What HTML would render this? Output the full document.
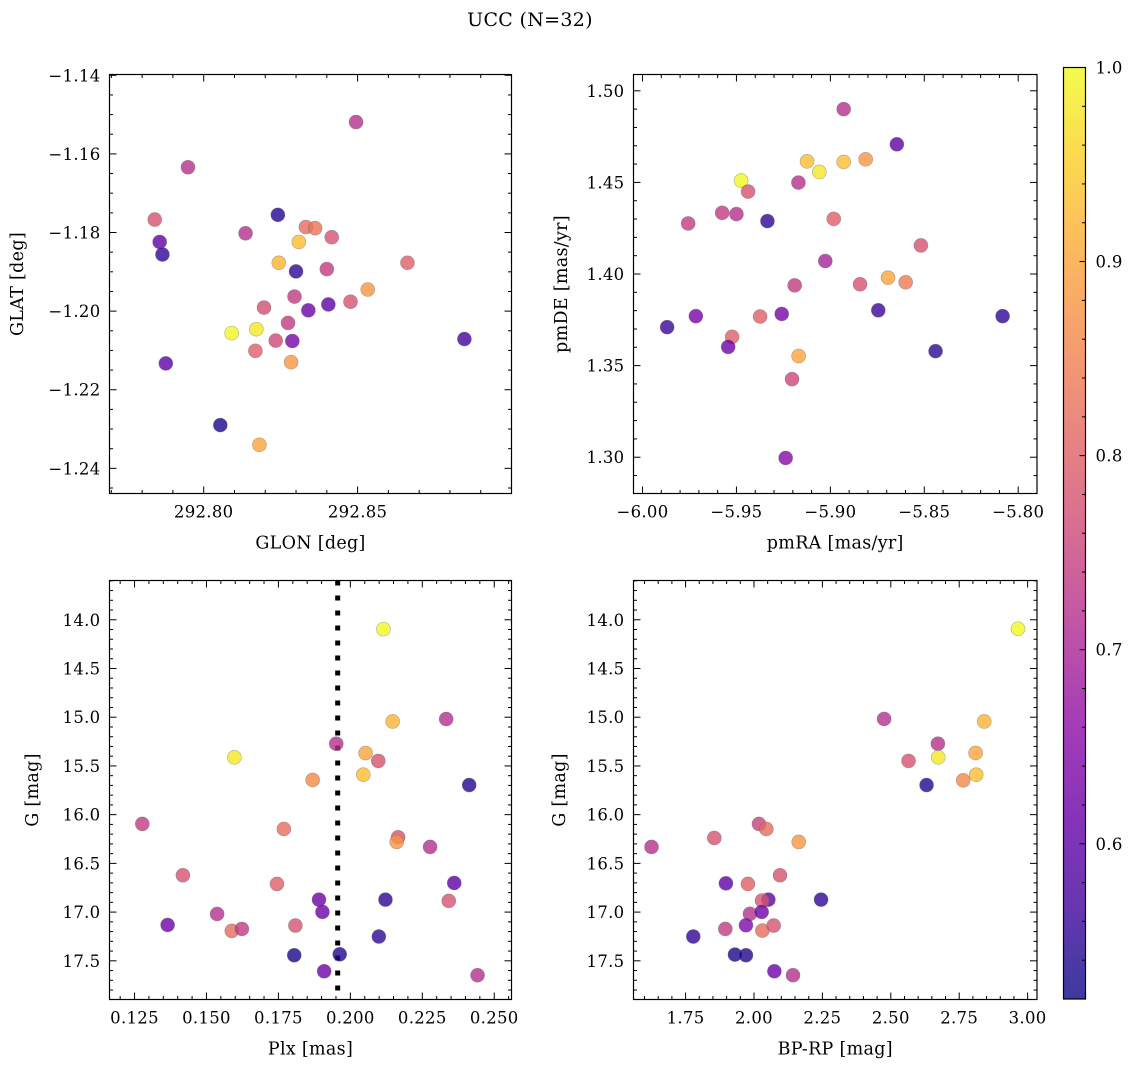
<!DOCTYPE html>
<html><head><meta charset="utf-8">
<style>
html,body{margin:0;padding:0;background:#fff;}
svg{display:block;font-family:"DejaVu Serif","Liberation Serif",serif;}
</style></head>
<body>
<svg id="fig" width="1136" height="1067" viewBox="0 0 1136 1067" xmlns="http://www.w3.org/2000/svg">
<text x="530" y="26" font-size="19" letter-spacing="0.3" text-anchor="middle">UCC (N=32)</text>
<g id="layer"></g>
</svg>
<script>
// ---- data: panel 1 (GLON/GLAT)
const glon=[292.8495,292.7949,292.7841,292.7857,292.7866,292.8241,292.8136,292.8332,292.8362,292.8416,292.8309,292.8244,292.8662,292.8300,292.8400,292.8533,292.8295,292.8196,292.8340,292.8405,292.8477,292.8274,292.8091,292.8171,292.8234,292.8288,292.8168,292.8847,292.7877,292.8284,292.8054,292.8181];
const glat=[-1.1519,-1.1634,-1.1767,-1.1824,-1.1856,-1.1755,-1.1802,-1.1786,-1.1789,-1.1812,-1.1824,-1.1877,-1.1877,-1.1899,-1.1893,-1.1945,-1.1963,-1.1991,-1.1998,-1.1983,-1.1976,-1.2030,-1.2056,-1.2046,-1.2075,-1.2076,-1.2101,-1.2071,-1.2133,-1.2130,-1.2290,-1.2340];
const prob1=[0.72,0.72,0.78,0.60,0.55,0.54,0.72,0.82,0.83,0.78,0.93,0.92,0.80,0.55,0.74,0.88,0.74,0.77,0.62,0.60,0.78,0.74,1.00,0.98,0.76,0.63,0.80,0.57,0.60,0.88,0.53,0.90];
// ---- data: panel 2 (pmRA/pmDE)
const pmra=[-5.8929,-5.8646,-5.9124,-5.9059,-5.8929,-5.8812,-5.9475,-5.9438,-5.9170,-5.9576,-5.9500,-5.9757,-5.9335,-5.8982,-5.8518,-5.9027,-5.9190,-5.8842,-5.8693,-5.8599,-5.9869,-5.9716,-5.9374,-5.9259,-5.8745,-5.8083,-5.9523,-5.9544,-5.8440,-5.9169,-5.9204,-5.9238];
const pmde=[1.4900,1.4708,1.4615,1.4557,1.4612,1.4626,1.4510,1.4450,1.4499,1.4334,1.4327,1.4276,1.4289,1.4301,1.4156,1.4071,1.3938,1.3944,1.3980,1.3955,1.3710,1.3770,1.3768,1.3782,1.3802,1.3770,1.3657,1.3602,1.3579,1.3552,1.3426,1.2996];
const prob2=[0.72,0.60,0.93,0.98,0.93,0.88,1.00,0.78,0.72,0.74,0.72,0.74,0.55,0.80,0.78,0.70,0.74,0.78,0.90,0.84,0.56,0.63,0.80,0.63,0.56,0.55,0.80,0.62,0.55,0.90,0.76,0.65];
// ---- data: panel 3 (Plx/G)
const plx=[0.2115,0.2147,0.2333,0.1951,0.2053,0.1597,0.2097,0.2045,0.1869,0.2413,0.1277,0.1769,0.2166,0.2161,0.2277,0.1418,0.1745,0.2361,0.1891,0.2122,0.2342,0.1903,0.1537,0.1365,0.1588,0.1623,0.1809,0.2099,0.1805,0.1963,0.1909,0.2442];
const gmag3=[14.096,15.043,15.019,15.272,15.368,15.412,15.449,15.590,15.644,15.696,16.095,16.147,16.232,16.280,16.331,16.622,16.711,16.701,16.872,16.872,16.885,16.998,17.019,17.132,17.193,17.173,17.138,17.251,17.443,17.433,17.607,17.648];
const prob3=[1.00,0.92,0.72,0.72,0.90,0.98,0.78,0.93,0.86,0.54,0.74,0.82,0.78,0.88,0.72,0.78,0.80,0.60,0.62,0.55,0.78,0.62,0.72,0.62,0.82,0.74,0.78,0.55,0.53,0.54,0.62,0.72];
const plxMedian=0.1956;
// ---- data: panel 4 (BP-RP/G)
const bprp=[2.9648,2.4756,2.8415,2.6721,2.6732,2.5648,2.8100,2.8122,2.7646,2.6307,1.6256,1.8550,2.0182,2.0453,2.1635,2.0951,1.8975,1.9780,2.2451,2.0526,2.0292,1.9853,2.0281,1.8953,1.9707,2.0306,2.0720,1.7782,1.9304,1.9707,2.0745,2.1426];
const gmag4=[14.092,15.018,15.043,15.272,15.412,15.449,15.367,15.590,15.648,15.696,16.331,16.239,16.095,16.147,16.280,16.622,16.705,16.711,16.872,16.872,16.882,17.018,16.998,17.173,17.135,17.190,17.138,17.251,17.436,17.443,17.607,17.648];
const prob4=[1.00,0.72,0.92,0.72,0.98,0.78,0.90,0.93,0.86,0.54,0.72,0.78,0.75,0.82,0.88,0.78,0.60,0.80,0.55,0.60,0.78,0.72,0.62,0.74,0.64,0.82,0.78,0.55,0.53,0.54,0.62,0.72];
// ticks
const xt1=[292.80,292.85], yt1=[-1.14,-1.16,-1.18,-1.20,-1.22,-1.24];
const xt2=[-6.00,-5.95,-5.90,-5.85,-5.80], yt2=[1.30,1.35,1.40,1.45,1.50];
const xt3=[0.125,0.150,0.175,0.200,0.225,0.250], ytG=[14.0,14.5,15.0,15.5,16.0,16.5,17.0,17.5];
const xt4=[1.75,2.00,2.25,2.50,2.75,3.00];
const cbTicks=[0.6,0.7,0.8,0.9,1.0];
const vmin=0.52, vmax=1.0;

const NS="http://www.w3.org/2000/svg";
const layer=document.getElementById('layer');
const FS=16.5, LS=0.3, FSL=17.5;
function mk(tag,attrs,parent){const e=document.createElementNS(NS,tag);for(const k in attrs)e.setAttribute(k,attrs[k]);(parent||layer).appendChild(e);return e;}
const stops=["#0d0887","#41049d","#6a00a8","#8f0da4","#b12a90","#cc4778","#e16462","#f2844b","#fca636","#fcce25","#f0f921"];
function hex(h){return[parseInt(h.slice(1,3),16),parseInt(h.slice(3,5),16),parseInt(h.slice(5,7),16)];}
function plasma(t){t=Math.max(0,Math.min(1,t));const f=t*10,i=Math.min(9,Math.floor(f)),r=f-i;const a=hex(stops[i]),b=hex(stops[i+1]);return"rgb("+a.map((v,k)=>Math.round(v+(b[k]-v)*r)).join(",")+")";}
function col(p){return plasma((p-vmin)/(vmax-vmin));}
function fmt(v,d){return (v<0?"\u2212":"")+Math.abs(v).toFixed(d);}

function panel(o){
  const g=mk('g',{});
  
  
  const sx=v=>o.L+(v-o.x0)/(o.x1-o.x0)*(o.R-o.L);
  const sy=v=>o.B-(v-o.y0)/(o.y1-o.y0)*(o.B-o.T);
  const ticks=mk('g',{stroke:"#000","stroke-width":1},g);
  
  
  const xa=Math.min(o.x0,o.x1),xb=Math.max(o.x0,o.x1),ya=Math.min(o.y0,o.y1),yb=Math.max(o.y0,o.y1);
  for(let k=Math.ceil(xa/o.xm-1e-6);k*o.xm<=xb+1e-9;k++){const x=sx(k*o.xm);const maj=Math.abs(k*o.xm/o.xM-Math.round(k*o.xm/o.xM))<1e-4;const l=maj?7:3.5;
    mk('line',{x1:x,x2:x,y1:o.B,y2:o.B-l},ticks);mk('line',{x1:x,x2:x,y1:o.T,y2:o.T+l},ticks);}
  for(let k=Math.ceil(ya/o.ym-1e-6);k*o.ym<=yb+1e-9;k++){const y=sy(k*o.ym);const maj=Math.abs(k*o.ym/o.yM-Math.round(k*o.ym/o.yM))<1e-4;const l=maj?7:3.5;
    mk('line',{x1:o.L,x2:o.L+l,y1:y,y2:y},ticks);mk('line',{x1:o.R,x2:o.R-l,y1:y,y2:y},ticks);}
  o.xt.forEach(v=>{const t=mk('text',{x:sx(v),y:o.B+24,"font-size":FS,"letter-spacing":LS,"text-anchor":"middle"},g);t.textContent=fmt(v,o.xd);
    });
  o.yt.forEach(v=>{const t=mk('text',{x:o.L-9,y:sy(v)+6,"font-size":FS,"letter-spacing":LS,"text-anchor":"end"},g);t.textContent=fmt(v,o.yd);
    });
  const xl=mk('text',{x:(o.L+o.R)/2,y:o.B+55,"font-size":FSL,"letter-spacing":LS,"text-anchor":"middle"},g);xl.textContent=o.xlab;
  
  const yl=mk('text',{x:0,y:0,"font-size":FSL,"letter-spacing":LS,"text-anchor":"middle",transform:`translate(${o.ylx},${(o.T+o.B)/2}) rotate(-90)`},g);yl.textContent=o.ylab;
  
  if(o.vline!==undefined){const ln=mk('line',{x1:sx(o.vline),x2:sx(o.vline),y1:o.T,y2:o.B,stroke:"#000","stroke-width":5,"stroke-dasharray":"5 10"},g);
    }
  const pts=mk('g',{},g);
  
  o.xs.forEach((v,i)=>{const c=mk('circle',{cx:sx(v),cy:sy(o.ys[i]),r:7,fill:col(o.ps[i]),"fill-opacity":0.8,stroke:"#666","stroke-opacity":0.5,"stroke-width":0.6},pts);
    });
  const fr=mk('rect',{x:o.L,y:o.T,width:o.R-o.L,height:o.B-o.T,fill:"none",stroke:"#000","stroke-width":1.2},g);
  
}

panel({name:'glon-glat-panel',L:109.5,R:511.5,T:74.5,B:493.5,x0:292.7694,x1:292.90,y0:-1.2464,y1:-1.1398,xm:0.01,xM:0.05,ym:0.005,yM:0.02,xt:xt1,yt:yt1,xd:2,yd:2,xlab:'GLON [deg]',ylab:'GLAT [deg]',ylx:23,xs:glon,ys:glat,ps:prob1});
panel({name:'pm-panel',L:633.5,R:1037,T:74.5,B:493.5,x0:-6.0048,x1:-5.790,y0:1.2802,y1:1.5089,xm:0.01,xM:0.05,ym:0.01,yM:0.05,xt:xt2,yt:yt2,xd:2,yd:2,xlab:'pmRA [mas/yr]',ylab:'pmDE [mas/yr]',ylx:567,xs:pmra,ys:pmde,ps:prob2});
panel({name:'plx-g-panel',L:109.5,R:511.5,T:580.5,B:999.5,x0:0.1163,x1:0.2560,y0:17.897,y1:13.597,xm:0.005,xM:0.025,ym:0.1,yM:0.5,xt:xt3,yt:ytG,xd:3,yd:1,xlab:'Plx [mas]',ylab:'G [mag]',ylx:38,xs:plx,ys:gmag3,ps:prob3,vline:plxMedian});
panel({name:'cmd-panel',L:633.5,R:1037,T:580.5,B:999.5,x0:1.5597,x1:3.0343,y0:17.897,y1:13.597,xm:0.05,xM:0.25,ym:0.1,yM:0.5,xt:xt4,yt:ytG,xd:2,yd:1,xlab:'BP-RP [mag]',ylab:'G [mag]',ylx:565,xs:bprp,ys:gmag4,ps:prob4});

const cb=mk('g',{});


const cT=67.5,cB=999,cL=1063.5,cR=1085.5;
const defs=mk('defs',{},cb);const lg=mk('linearGradient',{id:'cbg',x1:0,y1:1,x2:0,y2:0},defs);
for(let i=0;i<=20;i++){const t=i/20;mk('stop',{offset:t,"stop-color":plasma(t),"stop-opacity":0.8},lg);}
mk('rect',{x:cL,y:cT,width:cR-cL,height:cB-cT,fill:'url(#cbg)',stroke:'#000','stroke-width':1.2},cb);
const cy=v=>cB-(v-vmin)/(vmax-vmin)*(cB-cT);
for(let k=Math.ceil(vmin/0.02-1e-6);k*0.02<=vmax+1e-9;k++){const v=k*0.02,y=cy(v);const maj=Math.abs(v*10-Math.round(v*10))<1e-4;
  mk('line',{x1:cR,x2:cR-(maj?6:3.5),y1:y,y2:y,stroke:'#000','stroke-width':1},cb);}
cbTicks.forEach(v=>{const t=mk('text',{x:cR+10,y:cy(v)+6,"font-size":FS,"letter-spacing":LS},cb);t.textContent=v.toFixed(1);
  });
</script>
</body></html>
